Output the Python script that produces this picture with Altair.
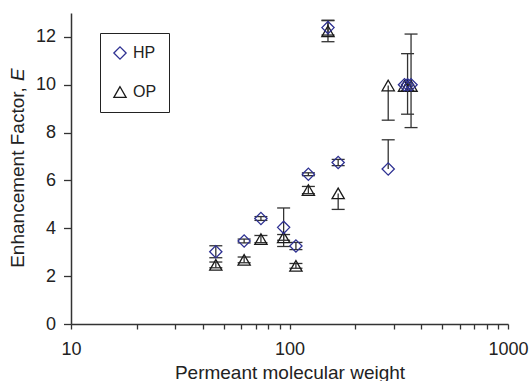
import altair as alt
import pandas as pd

# Permeant molecular weight (x) and enhancement factors (y)
mw = [46, 62, 74, 94, 107, 122, 150, 167, 283, 336, 347, 360]
hp = [3.02, 3.47, 4.41, 4.04, 3.26, 6.26, 12.39, 6.75, 6.48, 10.0, 10.0, 10.0]
op = [2.47, 2.68, 3.55, 3.62, 2.43, 5.60, 12.24, 5.46, 9.97, 9.95, 9.95, 9.95]
hp_lo = [2.77, 3.39, 4.33, 3.24, 3.11, 6.20, 12.08, 6.62, 6.48, 10.0, 8.77, 10.0]
hp_hi = [3.27, 3.55, 4.49, 4.85, 3.41, 6.32, 12.70, 6.88, 7.70, 10.0, 11.30, 10.0]
op_lo = [2.35, 2.56, 3.40, 3.50, 2.33, 5.45, 11.80, 4.79, 8.52, 9.95, 9.95, 8.21]
op_hi = [2.59, 2.80, 3.70, 3.74, 2.53, 5.75, 12.68, 5.46, 9.97, 9.95, 9.95, 12.12]

series_names = ["HP", "OP"]
x_tick_values = [10, 20, 30, 40, 50, 60, 70, 80, 90, 100, 200, 300, 400, 500,
                 600, 700, 800, 900, 1000]
y_tick_values = [0, 2, 4, 6, 8, 10, 12]
x_title = "Permeant molecular weight"
y_title_main = "Enhancement Factor,"
y_title_var = "E"

rows = []
for m, v, lo, hi in zip(mw, op, op_lo, op_hi):
    rows.append({"mw": m, "series": "OP", "E": v, "lo": lo, "hi": hi})
for m, v, lo, hi in zip(mw, hp, hp_lo, hp_hi):
    rows.append({"mw": m, "series": "HP", "E": v, "lo": lo, "hi": hi})
df = pd.DataFrame(rows)

caps = []
for r in rows:
    if r["lo"] < r["E"]:
        caps.append({"mw": r["mw"], "cap": r["lo"]})
    if r["hi"] > r["E"]:
        caps.append({"mw": r["mw"], "cap": r["hi"]})
caps_df = pd.DataFrame(caps)
bars_df = df[df["lo"] < df["hi"]]

FONT = "Liberation Sans"
TXT = "#222222"

xscale = alt.Scale(type="log", domain=[10, 1000], nice=False)
yscale = alt.Scale(domain=[0, 13], nice=False, zero=False)

xaxis = alt.Axis(
    values=x_tick_values,
    labelExpr="(datum.value == 10 || datum.value == 100 || datum.value == 1000) ? format(datum.value, 'd') : ''",
    title=x_title, titleFont=FONT, titleFontSize=19, titleFontWeight="normal",
    titleColor=TXT, titleBaseline="alphabetic", titleY=54,
    tickSize=5, labelPadding=11, labelFlush=False, grid=False,
)
yaxis = alt.Axis(values=y_tick_values, title=None, tickSize=7.5, labelPadding=8, grid=False)

bars = alt.Chart(bars_df).mark_rule(color="#333333", strokeWidth=1.3).encode(
    x=alt.X("mw:Q", scale=xscale, axis=xaxis),
    y=alt.Y("lo:Q", scale=yscale, axis=yaxis),
    y2="hi:Q",
)

capmarks = alt.Chart(caps_df).mark_rule(
    color="#333333", strokeWidth=1.3, xOffset=-6.5, x2Offset=6.5
).encode(
    x=alt.X("mw:Q", scale=xscale),
    x2="mw:Q",
    y=alt.Y("cap:Q", scale=yscale),
)

legend = alt.Legend(
    title=None, orient="none", legendX=29, legendY=20,
    strokeColor="#222222", padding=12, rowPadding=22,
    labelFont=FONT, labelFontSize=16, labelColor=TXT, labelOffset=5,
    symbolSize=150, symbolStrokeWidth=1.3,
)

points = alt.Chart(df).mark_point(filled=False, strokeWidth=1.3, size=150, opacity=1).encode(
    x=alt.X("mw:Q", scale=xscale),
    y=alt.Y("E:Q", scale=yscale),
    color=alt.Color("series:N", scale=alt.Scale(domain=series_names, range=["#2e3192", "#1a1a1a"]), legend=legend),
    shape=alt.Shape("series:N", scale=alt.Scale(domain=series_names, range=["diamond", "triangle-up"]), legend=legend),
)

t1 = alt.Chart(pd.DataFrame({"t": [y_title_main]})).mark_text(
    angle=270, align="left", baseline="middle", font=FONT, fontSize=19, color=TXT
).encode(x=alt.value(-53.5), y=alt.value(254.8), text="t:N")

t2 = alt.Chart(pd.DataFrame({"t": [y_title_var]})).mark_text(
    angle=270, align="right", baseline="middle", font=FONT, fontSize=19, color=TXT,
    fontStyle="italic"
).encode(x=alt.value(-53.5), y=alt.value(55.2), text="t:N")

chart = alt.layer(bars, capmarks, points, t1, t2).properties(
    width=437, height=311,
    background="white",
    autosize=alt.AutoSizeParams(type="none"),
    padding={"left": 71, "top": 13, "right": 21, "bottom": 57},
).configure_view(stroke=None).configure_axis(
    grid=False, domainColor="#333333", domainWidth=1.5, tickColor="#333333",
    tickWidth=1.3, labelFont=FONT, labelFontSize=18, labelColor=TXT,
)

chart.save("out.html", embed_options={"renderer": "svg", "actions": False})
